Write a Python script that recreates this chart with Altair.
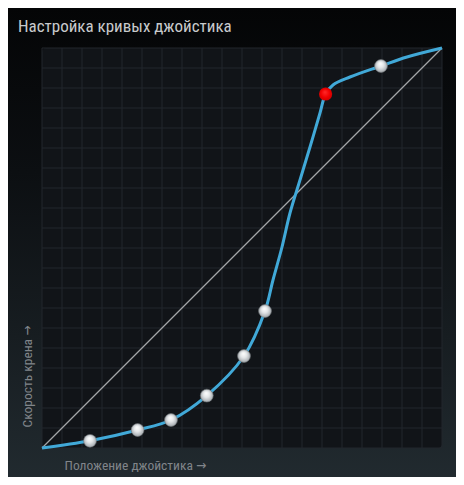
import altair as alt
import pandas as pd

# ---- data ----
curve_x = [0.0, 0.12, 0.239, 0.3225, 0.412, 0.505, 0.5575, 0.5775, 0.60, 0.62, 0.645, 0.67, 0.695, 0.709, 0.7275, 0.77, 0.8475, 0.9125, 1.0]
curve_y = [0.0, 0.018, 0.045, 0.07, 0.131, 0.23, 0.3425, 0.42, 0.5025, 0.5875, 0.67, 0.7525, 0.8375, 0.885, 0.9075, 0.9275, 0.955, 0.9775, 1.0]

node_x = [0.12, 0.239, 0.3225, 0.412, 0.505, 0.5575, 0.8475]
node_y = [0.018, 0.045, 0.07, 0.131, 0.23, 0.3425, 0.955]

active_x = [0.709]
active_y = [0.885]

diag_x = [0.0, 1.0]
diag_y = [0.0, 1.0]

grid_vals = [0.0, 0.05, 0.1, 0.15, 0.2, 0.25, 0.3, 0.35, 0.4, 0.45, 0.5,
             0.55, 0.6, 0.65, 0.7, 0.75, 0.8, 0.85, 0.9, 0.95, 1.0]

title_text = "Настройка кривых джойстика"
x_title = "Положение джойстика →"
y_title = "Скорость крена →"

W, H = 400, 400
FONT = "'Roboto Condensed', 'DejaVu Sans Condensed', 'Liberation Sans Narrow', Roboto, sans-serif"

curve_df = pd.DataFrame({"x": curve_x, "y": curve_y})
node_df = pd.DataFrame({"x": node_x, "y": node_y})
active_df = pd.DataFrame({"x": active_x, "y": active_y})
diag_df = pd.DataFrame({"x": diag_x, "y": diag_y})
grid_df = pd.DataFrame({"g": grid_vals})
one_df = pd.DataFrame({"a": [0]})

xs = alt.Scale(domain=[0, 1], nice=False, zero=False)
ys = alt.Scale(domain=[0, 1], nice=False, zero=False)

x_axis = alt.Axis(title=x_title, labels=False, ticks=False, domain=False, grid=False,
                  zindex=2,
                  titleX=22, titleY=17, titleAlign="left", titleAnchor="start",
                  titleBaseline="middle", titleFont=FONT, titleFontSize=13.5,
                  titleFontWeight="normal", titleColor="#80858a")
y_axis = alt.Axis(title=y_title, labels=False, ticks=False, domain=False, grid=False,
                  zindex=2,
                  titleAngle=270, titleX=-15, titleY=379, titleAlign="left",
                  titleAnchor="start", titleBaseline="middle", titleFont=FONT,
                  titleFontSize=13.5, titleFontWeight="normal", titleColor="#80858a")

bg_grad = alt.Gradient(
    gradient="linear", x1=0, y1=0, x2=0, y2=1,
    stops=[alt.GradientStop(color="#040506", offset=0),
           alt.GradientStop(color="#0c0f12", offset=0.35),
           alt.GradientStop(color="#171d21", offset=0.7),
           alt.GradientStop(color="#212a2f", offset=1)])

page_bg = alt.Chart(one_df).mark_rect(fill=bg_grad).encode(
    x=alt.value(-34), x2=alt.value(W + 14), y=alt.value(-40), y2=alt.value(H + 29))

plot_bg = alt.Chart(one_df).mark_rect(fill="#111418", cornerRadius=4).encode(
    x=alt.value(0), x2=alt.value(W), y=alt.value(0), y2=alt.value(H))

vgrid = alt.Chart(grid_df).mark_rule(color="#22272c", strokeWidth=1).encode(
    x=alt.X("g:Q", scale=xs, axis=x_axis))
hgrid = alt.Chart(grid_df).mark_rule(color="#22272c", strokeWidth=1).encode(
    y=alt.Y("g:Q", scale=ys, axis=y_axis))

diag = alt.Chart(diag_df).mark_line(color="#a3a5a7", strokeWidth=1.2).encode(
    x=alt.X("x:Q", scale=xs, axis=x_axis), y=alt.Y("y:Q", scale=ys, axis=y_axis))

curve = alt.Chart(curve_df).mark_line(color="#41a9d8", strokeWidth=3,
                                      interpolate="catmull-rom").encode(
    x=alt.X("x:Q", scale=xs, axis=x_axis), y=alt.Y("y:Q", scale=ys, axis=y_axis))

sphere = alt.Gradient(
    gradient="radial", x1=0.45, y1=0.3, r1=0, x2=0.5, y2=0.5, r2=0.55,
    stops=[alt.GradientStop(color="#ffffff", offset=0),
           alt.GradientStop(color="#e3e6e8", offset=0.45),
           alt.GradientStop(color="#9a9fa4", offset=1)])

nodes = alt.Chart(node_df).mark_point(filled=True, shape="circle", size=165,
                                      fill=sphere, opacity=1,
                                      stroke="#6d7276", strokeWidth=0.6).encode(
    x=alt.X("x:Q", scale=xs, axis=x_axis), y=alt.Y("y:Q", scale=ys, axis=y_axis))

red_grad = alt.Gradient(
    gradient="radial", x1=0.45, y1=0.35, r1=0, x2=0.5, y2=0.5, r2=0.55,
    stops=[alt.GradientStop(color="#ff2a2a", offset=0),
           alt.GradientStop(color="#f00000", offset=0.6),
           alt.GradientStop(color="#c80000", offset=1)])

active = alt.Chart(active_df).mark_point(filled=True, shape="circle", size=175,
                                         fill=red_grad, opacity=1).encode(
    x=alt.X("x:Q", scale=xs, axis=x_axis), y=alt.Y("y:Q", scale=ys, axis=y_axis))

chart = alt.layer(page_bg, plot_bg, vgrid, hgrid, diag, curve, nodes, active).properties(
    width=W, height=H,
    padding={"left": 34, "top": 40, "right": 14, "bottom": 29},
    autosize=alt.AutoSizeParams(type="none"),
    background="#0e1215",
    title=alt.TitleParams(text=title_text, anchor="start", frame="group", dx=-24,
                          offset=-41, baseline="alphabetic", font=FONT, fontSize=17,
                          fontWeight="normal", color="#c8cacc", zindex=2),
).configure_view(stroke=None, fill=None)

chart.save("out.html", embed_options={"renderer": "svg", "actions": False})
